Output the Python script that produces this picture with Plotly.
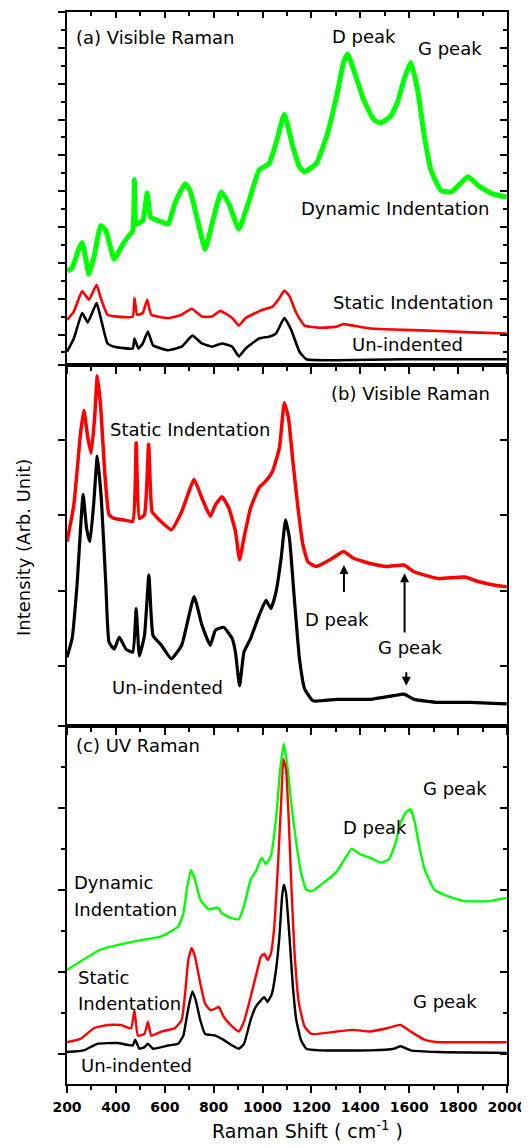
import plotly.graph_objects as go

# ---------------- data ----------------
# Panel (a) Visible Raman
a_dyn_x = [200, 221, 248, 262, 272, 290, 310, 338, 359, 393, 421, 448, 469, 476, 483, 510, 528, 542, 572, 614,
           641, 683, 703, 738, 765, 793, 831, 862, 903, 945, 986, 1027, 1055, 1089, 1124, 1151, 1172, 1220, 1262,
           1303, 1331, 1348, 1372, 1413, 1455, 1482, 1524, 1551, 1579, 1606, 1634, 1662, 1689, 1730, 1772, 1841,
           1882, 1937, 1999]
a_dyn_y = [2.77, 2.86, 3.38, 3.57, 3.29, 2.68, 3.15, 4.04, 3.90, 3.10, 3.43, 3.71, 3.90, 5.32, 4.08, 4.18, 4.95,
           4.27, 4.18, 4.08, 4.65, 5.21, 5.02, 4.08, 3.38, 4.08, 4.98, 4.65, 3.94, 4.74, 5.59, 5.77, 6.34, 7.14,
           6.24, 5.68, 5.54, 5.77, 6.53, 7.65, 8.59, 8.83, 8.40, 7.56, 7.00, 6.90, 7.09, 7.46, 8.12, 8.59, 7.84,
           6.53, 5.59, 5.02, 4.98, 5.40, 5.16, 4.93, 4.84]

a_sta_x = [200, 228, 262, 290, 321, 338, 366, 407, 469, 476, 487, 510, 528, 545, 614, 669, 710, 752, 793, 827,
           876, 903, 931, 1000, 1041, 1069, 1089, 1110, 1138, 1172, 1234, 1303, 1331, 1441, 1579, 1717, 1855, 1999]
a_sta_y = [1.41, 1.64, 2.21, 1.97, 2.39, 2.02, 1.55, 1.50, 1.50, 2.02, 1.55, 1.60, 1.97, 1.55, 1.46, 1.55, 1.72,
           1.50, 1.50, 1.66, 1.46, 1.25, 1.46, 1.69, 1.78, 2.02, 2.23, 2.07, 1.60, 1.25, 1.19, 1.22, 1.29, 1.17,
           1.13, 1.10, 1.06, 1.03]

a_un_x = [200, 228, 262, 285, 321, 338, 366, 393, 469, 476, 492, 510, 531, 552, 614, 669, 713, 752, 793, 834,
          876, 903, 931, 986, 1027, 1055, 1089, 1117, 1151, 1179, 1303, 1579, 1717, 1999]
a_un_y = [0.52, 0.89, 1.60, 1.34, 1.88, 1.46, 0.75, 0.66, 0.61, 0.89, 0.61, 0.75, 1.08, 0.70, 0.56, 0.66, 0.97,
          0.75, 0.66, 0.75, 0.66, 0.39, 0.61, 0.89, 0.94, 1.03, 1.46, 1.13, 0.52, 0.31, 0.28, 0.31, 0.31, 0.31]

# Panel (b) Visible Raman
b_sta_x = [200, 228, 255, 269, 285, 299, 313, 324, 338, 354, 372, 393, 434, 469, 483, 496, 517, 534, 548, 572,
           627, 669, 720, 752, 786, 807, 834, 862, 889, 906, 924, 951, 986, 1014, 1041, 1069, 1089, 1106, 1124,
           1145, 1165, 1186, 1220, 1276, 1331, 1372, 1441, 1510, 1579, 1620, 1717, 1827, 1882, 1951, 1999]
b_sta_y = [1.65, 2.14, 3.08, 3.40, 3.04, 2.83, 3.30, 3.86, 3.44, 2.59, 2.01, 1.96, 1.94, 1.92, 2.97, 1.96, 2.01,
           2.95, 2.05, 1.96, 1.81, 2.05, 2.48, 2.23, 1.99, 2.14, 2.25, 2.10, 1.79, 1.41, 1.70, 2.10, 2.37, 2.46,
           2.59, 2.90, 3.50, 3.30, 2.72, 2.10, 1.61, 1.38, 1.32, 1.41, 1.52, 1.43, 1.36, 1.32, 1.34, 1.25, 1.16,
           1.18, 1.12, 1.07, 1.05]

b_un_x = [200, 221, 241, 266, 280, 294, 310, 324, 341, 359, 372, 393, 414, 441, 469, 483, 496, 517, 535, 552,
          586, 627, 669, 720, 752, 786, 807, 841, 876, 889, 906, 924, 951, 986, 1014, 1034, 1055, 1076, 1094,
          1110, 1131, 1151, 1172, 1207, 1303, 1441, 1537, 1579, 1620, 1717, 1855, 1999]
b_un_y = [0.11, 0.36, 1.07, 2.28, 1.83, 1.65, 2.19, 2.79, 2.19, 1.07, 0.31, 0.22, 0.38, 0.22, 0.18, 0.76, 0.13,
          0.40, 1.21, 0.40, 0.27, 0.09, 0.27, 0.92, 0.54, 0.27, 0.47, 0.51, 0.36, 0.18, -0.27, 0.18, 0.36, 0.67,
          0.87, 0.76, 0.98, 1.43, 1.94, 1.70, 0.85, 0.09, -0.31, -0.47, -0.45, -0.45, -0.40, -0.38, -0.45, -0.49,
          -0.49, -0.51]

# Panel (c) UV Raman
c_dyn_x = [200, 338, 476, 586, 655, 676, 690, 707, 724, 745, 779, 818, 834, 876, 903, 924, 951, 972, 997, 1014,
           1034, 1055, 1071, 1087, 1103, 1117, 1138, 1158, 1179, 1200, 1248, 1303, 1344, 1365, 1400, 1441, 1482,
           1517, 1544, 1565, 1586, 1604, 1620, 1641, 1664, 1703, 1758, 1827, 1924, 1999]
c_dyn_y = [1.02, 1.27, 1.37, 1.43, 1.55, 1.71, 2.00, 2.24, 2.12, 1.88, 1.76, 1.78, 1.71, 1.65, 1.64, 1.80, 2.12,
           2.22, 2.39, 2.31, 2.41, 2.86, 3.43, 3.78, 3.47, 3.06, 2.57, 2.20, 2.00, 1.98, 2.08, 2.22, 2.41, 2.50,
           2.43, 2.39, 2.33, 2.37, 2.57, 2.82, 2.94, 2.98, 2.86, 2.53, 2.24, 2.00, 1.92, 1.86, 1.86, 1.90]

c_sta_x = [200, 255, 310, 366, 421, 462, 476, 490, 517, 531, 545, 586, 641, 669, 683, 696, 710, 724, 745, 765,
           786, 807, 821, 841, 869, 903, 924, 951, 972, 993, 1007, 1021, 1034, 1048, 1062, 1076, 1085, 1096, 1107,
           1118, 1131, 1149, 1172, 1200, 1303, 1372, 1441, 1510, 1565, 1606, 1662, 1717, 1855, 1999]
c_sta_y = [0.14, 0.18, 0.31, 0.35, 0.35, 0.31, 0.53, 0.22, 0.24, 0.39, 0.22, 0.27, 0.31, 0.41, 0.73, 1.14, 1.29,
           1.18, 0.86, 0.61, 0.53, 0.55, 0.57, 0.45, 0.35, 0.27, 0.39, 0.69, 0.94, 1.18, 1.22, 1.14, 1.22, 1.55,
           2.24, 3.06, 3.59, 3.47, 2.86, 2.04, 1.22, 0.61, 0.33, 0.24, 0.27, 0.29, 0.27, 0.31, 0.35, 0.27, 0.17,
           0.14, 0.14, 0.14]

c_un_x = [200, 269, 324, 407, 469, 479, 496, 517, 531, 552, 614, 655, 676, 690, 703, 713, 727, 745, 765, 807,
          834, 876, 903, 924, 951, 972, 993, 1007, 1020, 1038, 1055, 1069, 1080, 1087, 1096, 1110, 1124, 1138,
          1158, 1179, 1234, 1441, 1537, 1565, 1606, 1717, 1999]
c_un_y = [0.02, 0.04, 0.12, 0.13, 0.10, 0.17, 0.06, 0.08, 0.12, 0.06, 0.10, 0.12, 0.22, 0.45, 0.65, 0.76, 0.65,
          0.41, 0.24, 0.22, 0.18, 0.10, 0.06, 0.12, 0.41, 0.57, 0.65, 0.69, 0.63, 0.73, 1.02, 1.43, 1.92, 2.06,
          1.96, 1.43, 0.82, 0.41, 0.16, 0.06, 0.04, 0.04, 0.06, 0.09, 0.04, 0.02, 0.01]

x_range = [200, 2000]
x_ticks = [200, 400, 600, 800, 1000, 1200, 1400, 1600, 1800, 2000]
x_ticklabels = [str(v) for v in x_ticks]

GREEN = "#00FF00"
RED = "#FF0000"
BLACK = "#000000"

fig = go.Figure()

def add_line(x, y, color, width, xa, ya):
    fig.add_trace(go.Scatter(x=x, y=y, mode="lines",
                             line=dict(color=color, width=width, shape="spline", smoothing=0.4),
                             xaxis=xa, yaxis=ya, showlegend=False, hoverinfo="skip"))

add_line(a_dyn_x, a_dyn_y, GREEN, 5, "x", "y")
add_line(a_sta_x, a_sta_y, RED, 2.6, "x", "y")
add_line(a_un_x, a_un_y, BLACK, 2.6, "x", "y")

add_line(b_sta_x, b_sta_y, RED, 3.5, "x2", "y2")
add_line(b_un_x, b_un_y, BLACK, 3.2, "x2", "y2")

add_line(c_dyn_x, c_dyn_y, GREEN, 2.4, "x3", "y3")
add_line(c_sta_x, c_sta_y, RED, 2.4, "x3", "y3")
add_line(c_un_x, c_un_y, BLACK, 2.4, "x3", "y3")

# empty traces on the mirror-tick overlay axes
for xa, ya in [("x4", "y4"), ("x5", "y5"), ("x6", "y6")]:
    fig.add_trace(go.Scatter(x=[], y=[], xaxis=xa, yaxis=ya, showlegend=False, hoverinfo="skip"))

tickfont = dict(family="DejaVu Sans", size=14, color="black", weight="bold")

def xaxis_main(anchor, labels):
    return dict(range=x_range, tickmode="array", tickvals=x_ticks, ticktext=x_ticklabels,
                showticklabels=labels, ticks="outside", ticklen=7, tickwidth=2, tickcolor="black",
                showline=True, linewidth=2, linecolor="black", mirror=True, showgrid=False, zeroline=False,
                anchor=anchor, tickfont=tickfont, ticklabelstandoff=2,
                minor=dict(dtick=100, tick0=200, ticks="outside", ticklen=4, tickwidth=2,
                           tickcolor="black", showgrid=False))

def xaxis_top(over, anchor):
    return dict(range=x_range, overlaying=over, anchor=anchor, side="top", tickmode="array",
                tickvals=x_ticks, showticklabels=False, ticks="inside", ticklen=6, tickwidth=2,
                tickcolor="black", showline=False, showgrid=False, zeroline=False,
                minor=dict(dtick=100, tick0=200, ticks="inside", ticklen=4, tickwidth=2,
                           tickcolor="black", showgrid=False))

def yaxis_main(rng, domain, anchor, minor):
    d = dict(range=rng, domain=domain, anchor=anchor, dtick=1, tick0=0, showticklabels=False,
             ticks="outside", ticklen=7, tickwidth=2, tickcolor="black", showline=True, linewidth=2,
             linecolor="black", mirror=True, showgrid=False, zeroline=False)
    if minor:
        d["minor"] = dict(dtick=0.5, tick0=0, ticks="outside", ticklen=4, tickwidth=2,
                          tickcolor="black", showgrid=False)
    return d

def yaxis_right(rng, over, anchor, minor):
    d = dict(range=rng, overlaying=over, anchor=anchor, side="right", dtick=1, tick0=0,
             showticklabels=False, ticks="inside", ticklen=7, tickwidth=2, tickcolor="black",
             showline=False, showgrid=False, zeroline=False)
    if minor:
        d["minor"] = dict(dtick=0.5, tick0=0, ticks="inside", ticklen=4, tickwidth=2,
                          tickcolor="black", showgrid=False)
    return d

ya_rng = [0.14, 10.0]
yb_rng = [-0.80, 4.0]
yc_rng = [-0.37, 4.0]
dom_a = [0.6704, 1.0]
dom_b = [0.3343, 0.6704]
dom_c = [0.0, 0.3343]

# the page body has an 8px margin, so the figure is 8px smaller and its margins are shifted
fig.update_layout(
    width=521, height=1140, autosize=False,
    margin=dict(l=59, r=21, t=2, b=64, pad=0),
    paper_bgcolor="white", plot_bgcolor="white",
    xaxis=xaxis_main("y", False),
    xaxis2=xaxis_main("y2", False),
    xaxis3=xaxis_main("y3", True),
    xaxis4=xaxis_top("x", "y"),
    xaxis5=xaxis_top("x2", "y2"),
    xaxis6=xaxis_top("x3", "y3"),
    yaxis=yaxis_main(ya_rng, dom_a, "x", True),
    yaxis2=yaxis_main(yb_rng, dom_b, "x2", False),
    yaxis3=yaxis_main(yc_rng, dom_c, "x3", True),
    yaxis4=yaxis_right(ya_rng, "y", "x", True),
    yaxis5=yaxis_right(yb_rng, "y2", "x2", False),
    yaxis6=yaxis_right(yc_rng, "y3", "x3", True),
)

TXT = dict(family="DejaVu Sans", size=18, color="black")

def label(text, x, y, xref, yref, xanchor="center"):
    fig.add_annotation(text=text, x=x, y=y, xref=xref, yref=yref, xanchor=xanchor, yanchor="middle",
                       showarrow=False, font=TXT)

# panel (a)
label("(a) Visible Raman", 230, 9.30, "x", "y", "left")
label("D peak", 1414, 9.33, "x", "y")
label("G peak", 1767, 8.97, "x", "y")
label("Dynamic Indentation", 1540, 4.51, "x", "y")
label("Static Indentation", 1616, 1.89, "x", "y")
label("Un-indented", 1592, 0.72, "x", "y")

# panel (b)
label("(b) Visible Raman", 1604, 3.63, "x2", "y2")
label("Static Indentation", 702, 3.14, "x2", "y2")
label("D peak", 1306, 0.62, "x2", "y2")
label("G peak", 1604, 0.24, "x2", "y2")
label("Un-indented", 612, -0.29, "x2", "y2")

# arrows in panel (b)
for (xh, yt, yh) in [(1333, 0.96, 1.34), (1581, 0.42, 1.23), (1588, -0.07, -0.27)]:
    fig.add_annotation(x=xh, y=yh, ax=xh, ay=yt, xref="x2", yref="y2", axref="x2", ayref="y2",
                       text="", showarrow=True, arrowhead=2, arrowsize=0.9, arrowwidth=2,
                       arrowcolor="black")

# panel (c)
label("(c) UV Raman", 228, 3.76, "x3", "y3", "left")
label("G peak", 1789, 3.23, "x3", "y3")
label("D peak", 1462, 2.76, "x3", "y3")
label("Dynamic", 219, 2.09, "x3", "y3", "left")
label("Indentation", 219, 1.76, "x3", "y3", "left")
label("Static", 235, 0.93, "x3", "y3", "left")
label("Indentation", 235, 0.61, "x3", "y3", "left")
label("G peak", 1746, 0.63, "x3", "y3")
label("Un-indented", 249, -0.14, "x3", "y3", "left")

# axis titles
fig.add_annotation(text="Raman Shift ( cm<sup>-1</sup> )", x=0.546, y=-0.043, xref="paper", yref="paper",
                   xanchor="center", yanchor="middle", showarrow=False,
                   font=dict(family="DejaVu Sans", size=19, color="black"))
fig.add_annotation(text="Intensity (Arb. Unit)", x=-0.10, y=0.5, xref="paper", yref="paper",
                   xanchor="center", yanchor="middle", textangle=-90, showarrow=False,
                   font=dict(family="DejaVu Sans", size=18, color="black"))

fig.write_html("out.html")
